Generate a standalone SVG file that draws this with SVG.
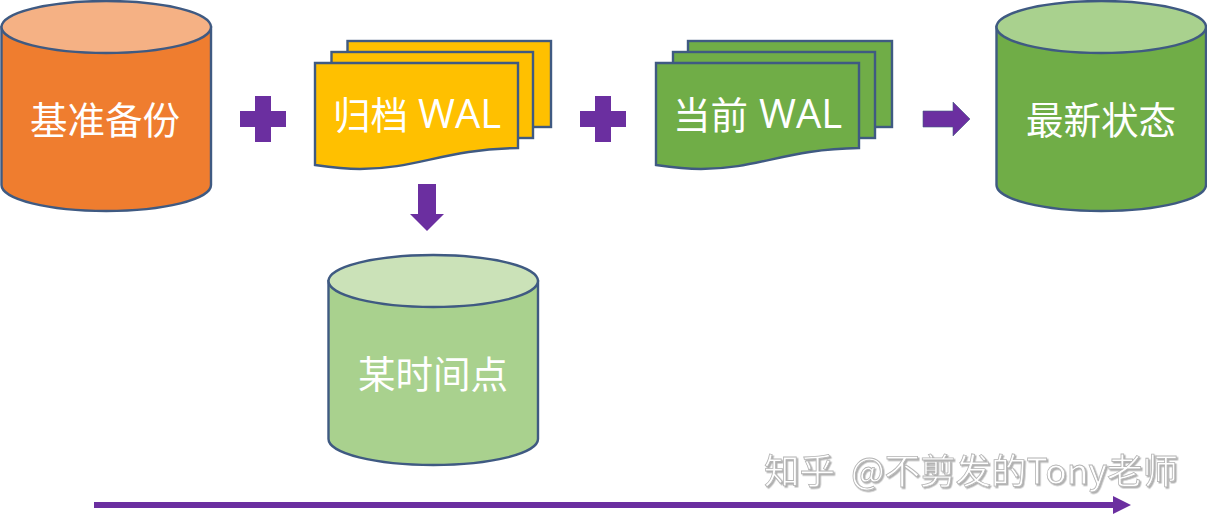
<svg xmlns="http://www.w3.org/2000/svg" width="1207" height="524" viewBox="0 0 1207 524">
<style>
.s{stroke:#3f5a82;stroke-width:2.4}
.o{fill:#ef7d2f}.ot{fill:#f5b184}
.g{fill:#70ad47}.gt{fill:#a9d18e}
.l{fill:#a9d18e}.lt{fill:#cbe2b8}
.y{fill:#ffc000}
.a{fill:#6b2fa0}
.t{font-family:"Noto Sans CJK SC","Noto Sans",sans-serif;font-size:37.500px;fill:#fff;font-weight:400}
.big{font-family:"Open Sans","Noto Sans",sans-serif;font-size:40px}
.w{font-family:"Noto Sans CJK SC","Noto Sans",sans-serif;font-size:35.500px;fill:#fff;stroke:#b4b4b4;stroke-width:.8;filter:url(#e)}
</style>
<defs>
<filter id="e" x="-5%" y="-20%" width="110%" height="140%"><feDropShadow dx="1.500" dy="1.500" stdDeviation="0.3" flood-color="#b0b0b0"/></filter>
<path id="cyl" d="M1.5 27V185A104.75 26 0 0 0 211 185V27Z"/>
<ellipse id="cap" cx="106.25" cy="27" rx="104.75" ry="26"/>
<path id="doc" d="M0 0H203V85C130 86 102 106 45 106C28 106 14 104 0 102Z"/>
</defs>
<g id="connectors">
<path class="a" d="M94 502H1113V496L1131 505 1113 514V508H94Z"/>
<path class="a" d="M923 111H953V102L970 119 953 136V127H923Z" stroke="#3f5a82" stroke-width="0.6"/>
<path class="a" d="M418 184H436V214H444L427 231 410 214H418Z"/>
<path id="plus1" class="a" d="M255 96H271V111H286V127H271V142H255V127H240V111H255Z"/>
<path id="plus2" class="a" d="M595 96H611V111H626V127H611V142H595V127H580V111H595Z"/>
</g>
<g id="base-backup">
<use href="#cyl" class="o s"/><use href="#cap" class="ot s"/>
<text class="t" x="105" y="134" text-anchor="middle">基准备份</text>
</g>
<g id="archive-wal">
<rect class="y s" x="347.500" y="41" width="203.500" height="86"/>
<rect class="y s" x="331.500" y="52" width="201.500" height="86"/>
<use href="#doc" x="315" y="63" class="y s"/>
<text class="t" x="333" y="129">归档 <tspan class="big" x="418" y="128">WAL</tspan></text>
</g>
<g id="current-wal">
<rect class="g s" x="688" y="41" width="204" height="86"/>
<rect class="g s" x="673" y="52" width="202" height="86"/>
<use href="#doc" x="656" y="63" class="g s"/>
<text class="t" x="673" y="129">当前 <tspan class="big" x="759" y="128">WAL</tspan></text>
</g>
<g id="latest-state">
<use href="#cyl" x="995" class="g s"/><use href="#cap" x="995" class="gt s"/>
<text class="t" x="1101" y="134" text-anchor="middle">最新状态</text>
</g>
<g id="point-in-time">
<use href="#cyl" x="327" y="254" class="l s"/><use href="#cap" x="327" y="254" class="lt s"/>
<text class="t" x="433" y="388" text-anchor="middle">某时间点</text>
</g>
<text class="w" x="764" y="484">知乎 <tspan x="851">@不剪发的Tony老师</tspan></text>
</svg>
